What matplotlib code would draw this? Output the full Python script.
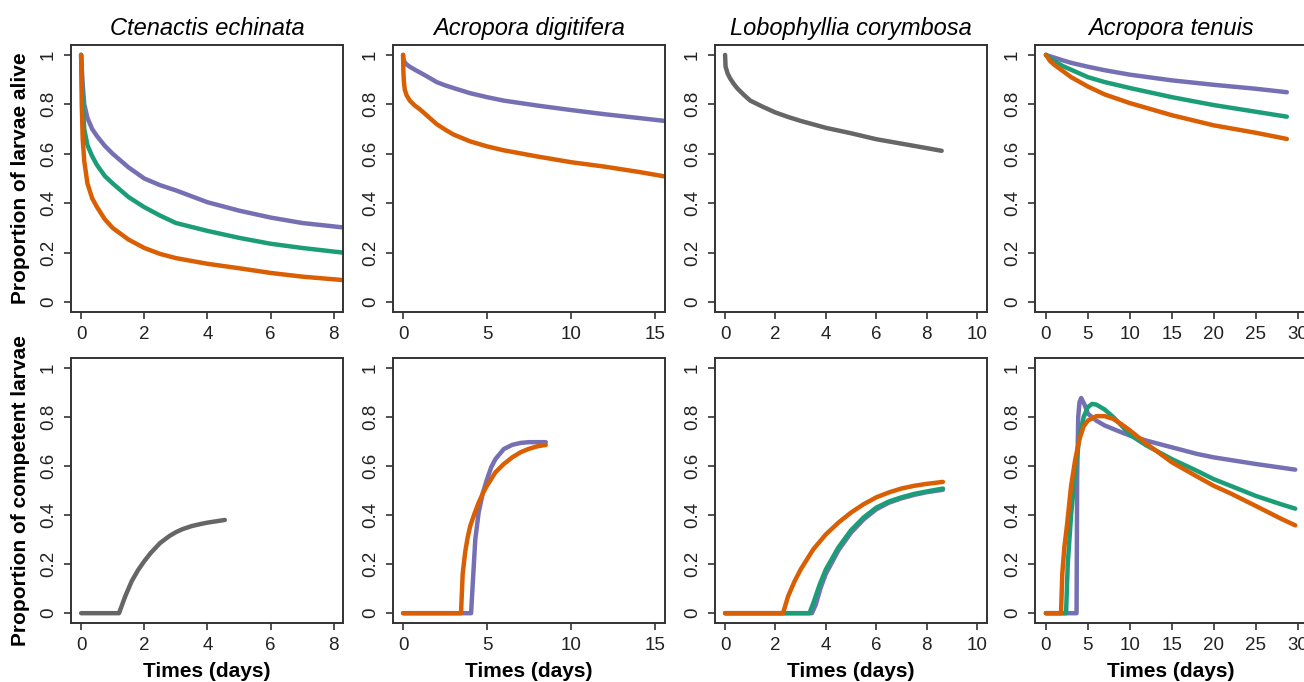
import numpy as np
import matplotlib
matplotlib.use("Agg")
import matplotlib.pyplot as plt

# colours (R Dark2-like)
PURPLE = "#7570B3"
GREEN = "#1B9E77"
ORANGE = "#D95F02"
GREY = "#666666"

species = ["Ctenactis echinata", "Acropora digitifera",
           "Lobophyllia corymbosa", "Acropora tenuis"]

# ---- top row: proportion of larvae alive ----
# Ctenactis echinata
ce_alive_x = [0, 0.02, 0.05, 0.1, 0.2, 0.35, 0.5, 0.75, 1, 1.5, 2, 2.5, 3, 4, 5, 6, 7, 8.3]
ce_alive_purple = [1.0, 0.95, 0.88, 0.80, 0.745, 0.70, 0.672, 0.632, 0.60, 0.545, 0.50, 0.473, 0.452, 0.404, 0.37, 0.342, 0.32, 0.302]
ce_alive_green = [1.0, 0.92, 0.80, 0.70, 0.635, 0.59, 0.555, 0.51, 0.48, 0.425, 0.384, 0.35, 0.32, 0.288, 0.26, 0.236, 0.219, 0.20]
ce_alive_orange = [1.0, 0.80, 0.66, 0.57, 0.48, 0.42, 0.385, 0.335, 0.30, 0.253, 0.219, 0.195, 0.178, 0.155, 0.137, 0.118, 0.103, 0.089]

# Acropora digitifera
ad_alive_x = [0, 0.02, 0.05, 0.1, 0.2, 0.4, 0.7, 1, 1.5, 2, 2.5, 3, 4, 5, 6, 8, 10, 12, 14, 15.7]
ad_alive_purple = [1.0, 0.985, 0.977, 0.97, 0.962, 0.952, 0.94, 0.929, 0.91, 0.89, 0.877, 0.866, 0.845, 0.829, 0.815, 0.795, 0.777, 0.76, 0.745, 0.732]
ad_alive_orange = [1.0, 0.93, 0.89, 0.86, 0.838, 0.815, 0.795, 0.78, 0.75, 0.72, 0.698, 0.678, 0.65, 0.63, 0.614, 0.589, 0.566, 0.548, 0.527, 0.507]

# Lobophyllia corymbosa
lc_alive_x = [0, 0.02, 0.1, 0.2, 0.35, 0.5, 0.75, 1, 1.5, 2, 2.5, 3, 4, 5, 6, 7, 8, 8.6]
lc_alive_grey = [1.0, 0.952, 0.925, 0.905, 0.882, 0.863, 0.838, 0.815, 0.79, 0.767, 0.749, 0.733, 0.705, 0.683, 0.659, 0.641, 0.623, 0.612]

# Acropora tenuis
at_alive_x = [0, 0.5, 1, 2, 3, 5, 7, 10, 15, 20, 25, 28.7]
at_alive_purple = [1.0, 0.994, 0.989, 0.978, 0.968, 0.952, 0.938, 0.92, 0.897, 0.879, 0.863, 0.849]
at_alive_green = [1.0, 0.985, 0.975, 0.955, 0.94, 0.91, 0.89, 0.866, 0.829, 0.797, 0.77, 0.75]
at_alive_orange = [1.0, 0.975, 0.96, 0.935, 0.91, 0.872, 0.84, 0.805, 0.756, 0.715, 0.685, 0.66]

# ---- bottom row: proportion of competent larvae ----
ce_comp_x = [0, 1.2, 1.4, 1.6, 1.8, 2.0, 2.2, 2.5, 2.8, 3.0, 3.2, 3.5, 3.8, 4.0, 4.2, 4.55]
ce_comp_grey = [0, 0, 0.07, 0.13, 0.175, 0.212, 0.245, 0.286, 0.315, 0.33, 0.342, 0.355, 0.364, 0.369, 0.373, 0.38]

ad_comp_orange_x = [0, 3.45, 3.55, 3.7, 3.85, 4.0, 4.25, 4.5, 4.75, 5.0, 5.5, 6.0, 6.5, 7.0, 7.5, 8.0, 8.5]
ad_comp_orange = [0, 0, 0.16, 0.25, 0.31, 0.355, 0.405, 0.45, 0.488, 0.52, 0.574, 0.608, 0.635, 0.656, 0.67, 0.68, 0.686]
ad_comp_purple_x = [0, 4.05, 4.15, 4.3, 4.5, 4.75, 5.0, 5.25, 5.5, 6.0, 6.5, 7.0, 7.5, 8.5]
ad_comp_purple = [0, 0, 0.12, 0.30, 0.41, 0.49, 0.546, 0.595, 0.628, 0.669, 0.686, 0.694, 0.697, 0.697]

lc_comp_orange_x = [0, 2.3, 2.5, 2.75, 3.0, 3.5, 4.0, 4.5, 5.0, 5.5, 6.0, 6.5, 7.0, 7.5, 8.0, 8.65]
lc_comp_orange = [0, 0, 0.068, 0.128, 0.178, 0.26, 0.321, 0.369, 0.41, 0.444, 0.472, 0.492, 0.508, 0.519, 0.527, 0.535]
lc_comp_green_x = [0, 3.35, 3.5, 3.75, 4.0, 4.5, 5.0, 5.5, 6.0, 6.5, 7.0, 7.5, 8.0, 8.65]
lc_comp_green = [0, 0, 0.04, 0.115, 0.178, 0.268, 0.338, 0.39, 0.43, 0.455, 0.472, 0.486, 0.496, 0.508]
lc_comp_purple_x = [0, 3.45, 3.6, 3.8, 4.0, 4.5, 5.0, 5.5, 6.0, 6.5, 7.0, 7.5, 8.0, 8.65]
lc_comp_purple = [0, 0, 0.035, 0.105, 0.16, 0.256, 0.328, 0.382, 0.423, 0.45, 0.468, 0.482, 0.493, 0.503]

at_comp_orange_x = [0, 1.8, 1.95, 2.2, 2.5, 3.0, 3.5, 4.0, 4.5, 5.0, 6.0, 7.0, 8.0, 9.0, 10, 12, 15, 18, 20, 22, 25, 28, 29.7]
at_comp_orange = [0, 0, 0.16, 0.27, 0.355, 0.519, 0.628, 0.71, 0.762, 0.785, 0.803, 0.803, 0.792, 0.77, 0.745, 0.69, 0.615, 0.557, 0.519, 0.488, 0.437, 0.385, 0.358]
at_comp_green_x = [0, 2.4, 2.6, 3.0, 3.5, 4.0, 4.5, 5.0, 5.5, 6.0, 7.0, 8.0, 9.0, 10, 12, 15, 18, 20, 22, 25, 28, 29.7]
at_comp_green = [0, 0, 0.2, 0.40, 0.58, 0.72, 0.80, 0.84, 0.853, 0.85, 0.83, 0.80, 0.765, 0.727, 0.683, 0.628, 0.58, 0.546, 0.519, 0.478, 0.444, 0.426]
at_comp_purple_x = [0, 3.65, 3.72, 3.85, 4.0, 4.2, 4.6, 5.0, 6.0, 7.0, 8.0, 9.0, 10, 12, 15, 18, 20, 25, 29.7]
at_comp_purple = [0, 0, 0.55, 0.80, 0.86, 0.877, 0.85, 0.813, 0.785, 0.765, 0.751, 0.737, 0.724, 0.703, 0.676, 0.649, 0.635, 0.608, 0.585]

alive = [
    [(ce_alive_x, ce_alive_purple, PURPLE), (ce_alive_x, ce_alive_green, GREEN), (ce_alive_x, ce_alive_orange, ORANGE)],
    [(ad_alive_x, ad_alive_purple, PURPLE), (ad_alive_x, ad_alive_orange, ORANGE)],
    [(lc_alive_x, lc_alive_grey, GREY)],
    [(at_alive_x, at_alive_purple, PURPLE), (at_alive_x, at_alive_green, GREEN), (at_alive_x, at_alive_orange, ORANGE)],
]
competent = [
    [(ce_comp_x, ce_comp_grey, GREY)],
    [(ad_comp_purple_x, ad_comp_purple, PURPLE), (ad_comp_orange_x, ad_comp_orange, ORANGE)],
    [(lc_comp_purple_x, lc_comp_purple, PURPLE), (lc_comp_green_x, lc_comp_green, GREEN), (lc_comp_orange_x, lc_comp_orange, ORANGE)],
    [(at_comp_purple_x, at_comp_purple, PURPLE), (at_comp_green_x, at_comp_green, GREEN), (at_comp_orange_x, at_comp_orange, ORANGE)],
]

xlims = [(-0.32, 8.29), (-0.6, 15.6), (-0.4, 10.4), (-1.3, 31.1)]
xticks = [[0, 2, 4, 6, 8], [0, 5, 10, 15], [0, 2, 4, 6, 8, 10], [0, 5, 10, 15, 20, 25, 30]]
yticks = [0, 0.2, 0.4, 0.6, 0.8, 1]
ytick_labels = ["0", "0.2", "0.4", "0.6", "0.8", "1"]

plt.rcParams["font.family"] = "Liberation Sans"

W, H = 1304, 682
fig = plt.figure(figsize=(W / 100, H / 100), dpi=100)

lefts = [71, 393, 715, 1035]
pw = 272
rows = [(45, 312), (358, 623)]


def style_axis(ax, j):
    ax.set_xlim(*xlims[j])
    ax.set_ylim(-0.04, 1.04)
    ax.set_xticks(xticks[j])
    ax.set_xticklabels([str(t) for t in xticks[j]])
    ax.set_yticks(yticks)
    ax.set_yticklabels(ytick_labels, rotation=90, va="center")
    ax.tick_params(length=5, width=1.2, color="#333333", labelsize=13.5,
                   labelcolor="#222222", pad=5)
    for s in ax.spines.values():
        s.set_linewidth(1.4)
        s.set_color("#333333")


for r, data in enumerate([alive, competent]):
    top, bottom = rows[r]
    for j in range(4):
        ax = fig.add_axes([lefts[j] / W, 1 - bottom / H, pw / W, (bottom - top) / H])
        for x, y, c in data[j]:
            ax.plot(x, y, color=c, lw=3.2, solid_capstyle="round", solid_joinstyle="round")
        style_axis(ax, j)
        if r == 0:
            ax.set_title(species[j], fontsize=17, style="italic", pad=7)
        else:
            ax.set_xlabel("Times (days)", fontsize=15, fontweight="bold", labelpad=6)
        if j == 0:
            lab = "Proportion of larvae alive" if r == 0 else "Proportion of competent larvae"
            ax.set_ylabel(lab, fontsize=15, fontweight="bold")
            ax.yaxis.set_label_coords(-0.15, 0.5)

fig.savefig("out.png", dpi=100)
